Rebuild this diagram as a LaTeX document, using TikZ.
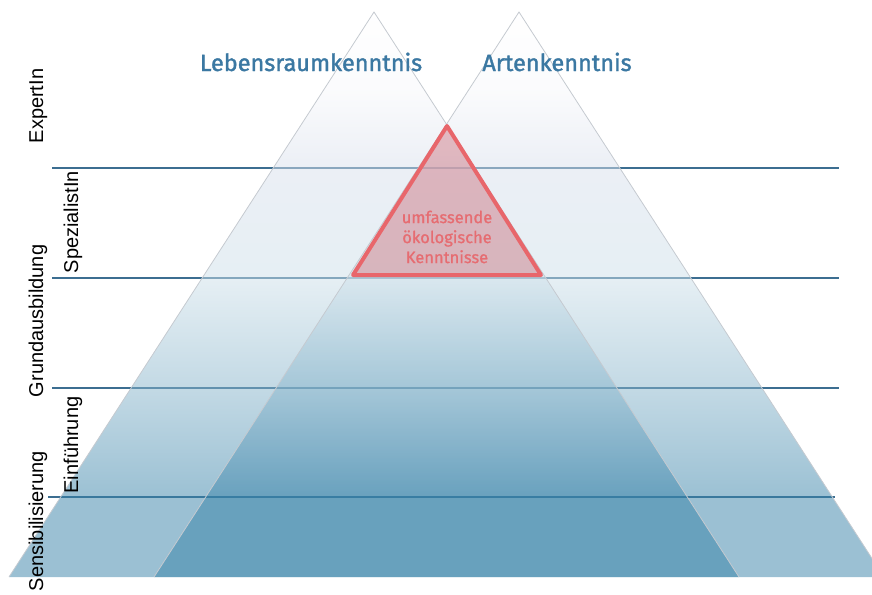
\documentclass[tikz,border=0pt]{standalone}
\usepackage{fontspec}
\setmainfont{Liberation Sans}
\newfontfamily\titlefont{Fira Sans}[FakeBold=1.6]
\newfontfamily\redfont{Fira Sans}[FakeBold=1.0]
\definecolor{tri}{RGB}{55,130,168}
\definecolor{lav}{RGB}{226,229,240}
\definecolor{hline}{RGB}{60,110,145}
\definecolor{ttl}{RGB}{59,120,162}
\definecolor{redl}{RGB}{232,102,107}
\definecolor{redf}{RGB}{212,105,115}
\definecolor{redt}{RGB}{230,108,113}
\definecolor{edge}{RGB}{197,202,208}
\pgfdeclareverticalshading{pyrsh}{100bp}{color(0bp)=(tri); color(32bp)=(tri); color(41.7bp)=(tri!60!white); color(51.5bp)=(tri!25!white); color(61bp)=(tri!6!lav); color(68bp)=(lav!30!white); color(75bp)=(white); color(100bp)=(white)}
\begin{document}
\begin{tikzpicture}[x=1pt,y=-1pt,
  hl/.style={draw=hline,line width=1.3pt},
  pyr/.style={shade,shading=pyrsh,fill opacity=0.5},
  pyredge/.style={draw=edge,line width=0.8pt},
  lvl/.style={rotate=90,anchor=base,font=\fontsize{20}{24}\selectfont,inner sep=0pt},
  ttlbl/.style={anchor=base,text=ttl,font=\titlefont\fontsize{23.5}{28}\selectfont,inner sep=0pt},
  redtri/.style={draw=redl,line width=4pt,line join=round,fill=redf,fill opacity=0.4},
  redtxt/.style={text=redt,align=center,font=\redfont\fontsize{16.5}{20}\selectfont,inner sep=0pt}
]
\useasboundingbox (0,0) rectangle (872,594);
\clip (0,0) rectangle (872,594);
% level lines
\coordinate (l1a) at (52,168); \coordinate (l1b) at (839,168);
\coordinate (l2a) at (52,278); \coordinate (l2b) at (839,278);
\coordinate (l3a) at (52,388); \coordinate (l3b) at (839,388);
\coordinate (l4a) at (48,497); \coordinate (l4b) at (835,497);
\draw[hl] (l1a) -- (l1b);
\draw[hl] (l2a) -- (l2b);
\draw[hl] (l3a) -- (l3b);
\draw[hl] (l4a) -- (l4b);
% pyramids
\coordinate (aTop) at (374,12); \coordinate (aL) at (9,577); \coordinate (aR) at (739,577);
\coordinate (bTop) at (519,12); \coordinate (bL) at (154,577); \coordinate (bR) at (884,577);
\path[pyr] (aL) -- (aTop) -- (aR) -- cycle;
\path[pyr] (bL) -- (bTop) -- (bR) -- cycle;
\draw[pyredge] (aL) -- (aTop) -- (aR);
\draw[pyredge] (bL) -- (bTop) -- (bR);
% red triangle
\coordinate (rTop) at (447,126); \coordinate (rL) at (353,275); \coordinate (rR) at (541,275);
\draw[redtri] (rL) -- (rTop) -- (rR) -- cycle;
\node[redtxt] (eco) at (447,237) {umfassende\\ökologische\\Kenntnisse};
% titles
\node[ttlbl] (lr) at (311,71) {Lebensraumkenntnis};
\node[ttlbl] (ar) at (557,71) {Artenkenntnis};
% level labels
\node[lvl] (exp) at (43,106) {ExpertIn};
\node[lvl] (grd) at (43,321) {Grundausbildung};
\node[lvl] (sen) at (43,521) {Sensibilisierung};
\node[lvl] (spz) at (78,222) {SpezialistIn};
\node[lvl] (ein) at (78,445) {Einführung};
\end{tikzpicture}
\end{document}
